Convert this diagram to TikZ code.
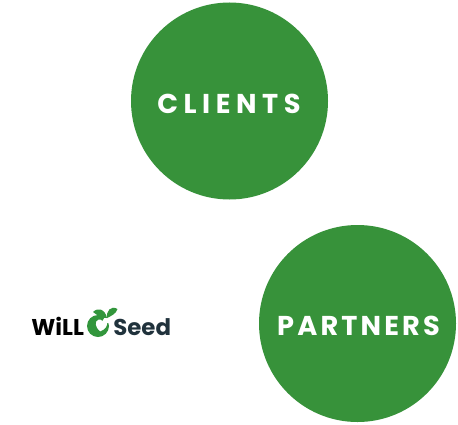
\documentclass[tikz,border=0pt]{standalone}
\usepackage{fontspec}
\setmainfont{Poppins}
\usetikzlibrary{positioning}
\definecolor{leafgreen}{RGB}{55,146,58}
\definecolor{logogreen}{RGB}{50,150,60}
\definecolor{seedslate}{RGB}{32,50,60}
\begin{document}
\begin{tikzpicture}[
  disc/.style={circle,fill=leafgreen,minimum size=3.94cm,inner sep=0pt},
  disclab/.style={text=white,font=\fontsize{15.5}{18}\selectfont\bfseries},
  logotxt/.style={inner sep=0pt,anchor=base west,font=\fontsize{13}{15}\selectfont\bfseries}
]
\useasboundingbox (0,0) rectangle (9.16,8.48);

%% the two discs
\node[disc] (clients) at (4.59,6.46) {};
\node[disc] (partners) at (7.15,2.01) {};
\node[disclab] (clientslab) at (4.58,6.41) {\addfontfeature{LetterSpace=20.5}CLIENTS};
\node[disclab] (partnerslab) at (7.17,1.97) {\addfontfeature{LetterSpace=11.5}PARTNERS};

%% logo
\node[logotxt,text=black] (will) at (0.62,1.78) {WiLL};
\node[logotxt,text=seedslate] (seed) at (2.26,1.78) {Seed};
\fill[logogreen,even odd rule] (1.96,1.96) circle (0.22)
  (2.00,1.85) .. controls (1.90,1.93) and (1.88,2.06) .. (1.97,2.09)
  .. controls (2.01,2.10) and (2.03,2.08) .. (2.05,2.06)
  .. controls (2.08,2.09) and (2.12,2.08) .. (2.14,2.05)
  .. controls (2.17,1.97) and (2.10,1.88) .. (2.00,1.85);
\fill[white] (2.02,2.02) -- (2.14,2.20) -- (2.22,2.02) -- cycle;
\fill[logogreen] (2.14,2.12) .. controls (2.10,2.30) and (1.96,2.34) .. (1.86,2.24)
  .. controls (1.94,2.18) and (2.04,2.10) .. (2.14,2.12);
\fill[logogreen] (2.14,2.12) .. controls (2.12,2.26) and (2.22,2.38) .. (2.35,2.30)
  .. controls (2.32,2.20) and (2.22,2.16) .. (2.14,2.12);
\end{tikzpicture}
\end{document}
